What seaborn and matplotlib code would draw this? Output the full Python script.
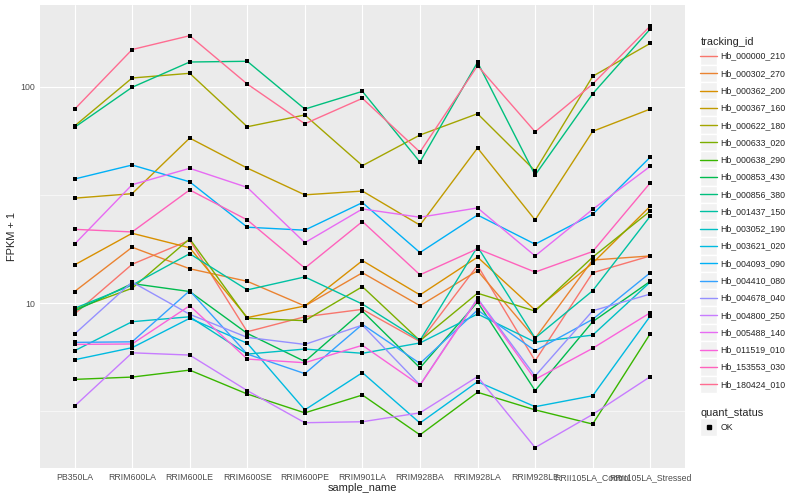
import numpy as np
import pandas as pd
import seaborn as sns
import matplotlib.pyplot as plt
from matplotlib.lines import Line2D
from matplotlib.patches import Rectangle
from matplotlib.legend_handler import HandlerLine2D

# samples on the x axis
samples = ['PB350LA', 'RRIM600LA', 'RRIM600LE', 'RRIM600SE', 'RRIM600PE', 'RRIM901LA',
           'RRIM928BA', 'RRIM928LA', 'RRIM928LE', 'RRII105LA_Control', 'RRII105LA_Stressed']

tracking_ids = ['Hb_000000_210', 'Hb_000302_270', 'Hb_000362_200', 'Hb_000367_160',
                'Hb_000622_180', 'Hb_000633_020', 'Hb_000638_290', 'Hb_000853_430',
                'Hb_000856_380', 'Hb_001437_150', 'Hb_003052_190', 'Hb_003621_020',
                'Hb_004093_090', 'Hb_004410_080', 'Hb_004678_040', 'Hb_004800_250',
                'Hb_005488_140', 'Hb_011519_010', 'Hb_153553_030', 'Hb_180424_010']

# FPKM + 1 per gene (same order as samples)
hb_000000_210 = [8.90, 15.1, 19.5, 7.37, 8.64, 9.35, 6.64, 14.9, 5.41, 13.8, 16.5]
hb_000302_270 = [11.3, 18.1, 14.4, 12.6, 9.69, 13.8, 9.72, 14.1, 6.87, 15.8, 16.5]
hb_000362_200 = [15.0, 21.0, 18.0, 8.57, 9.69, 15.7, 10.9, 16.3, 9.28, 15.3, 28.0]
hb_000367_160 = [30.5, 32.0, 57.8, 42.0, 31.6, 32.9, 22.9, 52.0, 24.2, 62.1, 78.7]
hb_000622_180 = [65.7, 109.5, 115.1, 65.2, 73.9, 43.1, 59.7, 74.9, 40.8, 111.5, 158.3]
hb_000633_020 = [9.35, 11.7, 19.8, 8.50, 8.29, 11.9, 6.70, 11.1, 9.18, 16.3, 26.6]
hb_000638_290 = [4.44, 4.55, 4.90, 3.80, 3.11, 3.76, 2.46, 3.87, 3.21, 2.76, 7.22]
hb_000853_430 = [9.18, 12.3, 11.3, 7.24, 5.37, 9.18, 5.02, 10.1, 3.94, 8.20, 12.6]
hb_000856_380 = [64.8, 99.2, 129.8, 130.8, 78.7, 95.0, 44.8, 129.4, 39.0, 92.6, 184.4]
hb_001437_150 = [9.45, 12.1, 16.9, 11.5, 13.2, 9.89, 6.72, 18.2, 6.89, 11.4, 25.2]
hb_003052_190 = [6.02, 8.20, 8.64, 5.81, 6.13, 5.86, 6.54, 8.90, 6.60, 7.11, 12.5]
hb_003621_020 = [5.47, 6.22, 8.50, 6.52, 3.21, 4.77, 2.79, 4.33, 3.32, 3.73, 8.71]
hb_004093_090 = [37.4, 43.4, 36.3, 22.4, 21.7, 29.1, 17.1, 25.5, 18.7, 25.7, 47.2]
hb_004410_080 = [6.58, 6.62, 11.4, 5.81, 4.72, 7.97, 5.26, 9.28, 6.02, 8.41, 13.8]
hb_004678_040 = [7.19, 12.5, 8.87, 6.94, 6.44, 7.91, 4.18, 10.5, 4.60, 9.21, 11.0]
hb_004800_250 = [3.34, 5.89, 5.75, 3.94, 2.80, 2.83, 3.11, 4.57, 2.15, 3.06, 4.57]
hb_005488_140 = [18.7, 35.2, 41.9, 34.2, 19.0, 27.2, 24.9, 27.5, 16.5, 27.1, 42.8]
hb_011519_010 = [6.44, 6.47, 9.72, 5.51, 5.30, 6.38, 4.17, 10.4, 4.44, 6.18, 9.02]
hb_153553_030 = [21.9, 21.3, 33.3, 24.2, 14.5, 23.8, 13.5, 17.8, 13.9, 17.3, 35.9]
hb_180424_010 = [78.5, 148.2, 171.7, 102.7, 67.3, 88.2, 49.8, 124.8, 61.8, 102.7, 190.3]

series = [hb_000000_210, hb_000302_270, hb_000362_200, hb_000367_160, hb_000622_180,
          hb_000633_020, hb_000638_290, hb_000853_430, hb_000856_380, hb_001437_150,
          hb_003052_190, hb_003621_020, hb_004093_090, hb_004410_080, hb_004678_040,
          hb_004800_250, hb_005488_140, hb_011519_010, hb_153553_030, hb_180424_010]

# ggplot2 default hue palette for 20 groups
hue_colors = ['#F8766D', '#EA8331', '#D89000', '#C09B00', '#A3A500', '#7CAE00', '#39B600',
              '#00BB4E', '#00BF7D', '#00C1A3', '#00BFC4', '#00BAE0', '#00B0F6', '#35A2FF',
              '#9590FF', '#C77CFF', '#E76BF3', '#FA62DB', '#FF62BC', '#FF6C91']

df = pd.DataFrame({
    'tracking_id': np.repeat(tracking_ids, len(samples)),
    'sample_name': samples * len(tracking_ids),
    'fpkm': np.concatenate(series),
})

sns.set_style('darkgrid', {'axes.facecolor': '#EBEBEB', 'grid.color': 'white'})
plt.rcParams['font.family'] = ['Liberation Sans', 'DejaVu Sans']

fig = plt.figure(figsize=(8, 5), dpi=100)
ax = fig.add_axes([0.05, 0.064, 0.806, 0.926])

palette = dict(zip(tracking_ids, hue_colors))
sns.lineplot(data=df, x='sample_name', y='fpkm', hue='tracking_id', palette=palette,
             estimator=None, sort=False, lw=1.0, legend=False, ax=ax)
sns.scatterplot(data=df, x='sample_name', y='fpkm', color='black', marker='s', s=8,
                linewidth=0, legend=False, ax=ax, zorder=3)

ax.set_yscale('log')
ax.set_ylim(1.73, 238)
ax.set_xlim(-0.6, len(samples) - 0.4)
ax.set_yticks([10, 100])
ax.set_yticklabels(['10', '100'])
ax.set_yticks([10 ** 0.5, 10 ** 1.5], minor=True)
ax.yaxis.set_minor_formatter(plt.NullFormatter())
ax.grid(True, which='major', color='white', lw=0.8)
ax.grid(True, which='minor', color='white', lw=0.4)
ax.tick_params(which='major', length=2, width=0.6, color='#333333', labelsize=6.3,
               labelcolor='#4D4D4D', pad=1.5)
ax.tick_params(which='minor', length=0)
for s in ax.spines.values():
    s.set_visible(False)
ax.set_xlabel('sample_name', fontsize=7.9, labelpad=1)
ax.set_ylabel('FPKM + 1', fontsize=7.9, labelpad=2.5)


class BoxedLine(HandlerLine2D):
    # ggplot-like legend key: light grey square, glyph in its middle
    def create_artists(self, legend, orig_handle, xdescent, ydescent, width, height,
                       fontsize, trans):
        box = Rectangle((-xdescent, -ydescent), width, height,
                        facecolor='#F2F2F2', edgecolor='white', lw=1.0, transform=trans)
        arts = super().create_artists(legend, orig_handle, xdescent, ydescent, width,
                                      height, fontsize, trans)
        mid = (height - 2 * ydescent) / 2
        for a in arts:
            a.set_ydata(np.full_like(a.get_xdata(), mid))
        return [box] + arts


legend_kw = dict(loc='upper left', frameon=False, fontsize=6.3, title_fontsize=7.9,
                 alignment='left', borderpad=0, labelspacing=0, handlelength=1.9,
                 handleheight=2.66, handletextpad=0.4, handler_map={Line2D: BoxedLine()})

line_handles = [Line2D([], [], color=c, lw=1.0) for c in hue_colors]
leg1 = fig.legend(line_handles, tracking_ids, title='tracking_id',
                  bbox_to_anchor=(696 / 800, 1 - 33 / 500), **legend_kw)

ok_handle = Line2D([], [], marker='s', color='black', linestyle='none', markersize=2.5)
leg2 = fig.legend([ok_handle], ['OK'], title='quant_status',
                  bbox_to_anchor=(696 / 800, 1 - 404 / 500), **legend_kw)

fig.savefig('out.png', dpi=100)
